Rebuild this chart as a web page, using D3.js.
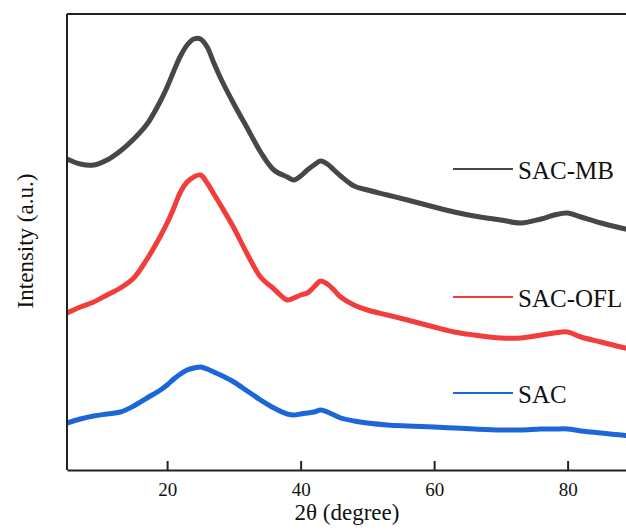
<!DOCTYPE html>
<html>
<head>
<meta charset="utf-8">
<script src="https://cdn.jsdelivr.net/npm/d3@7"></script>
<style>
  body { margin: 0; background: #fff; }
  svg text { font-family: "Liberation Serif", "Times New Roman", serif !important; fill: #111; }
</style>
</head>
<body>
<div id="viz"></div>
<script>
var svg_width = 626;
var svg_height = 530;

// 2theta (degree) sampled along the patterns
var angle = [5,7,9,11,13,15,17,19,20,21,22,23,24,25,26,27,28,30,32,34,36,38,39,40,41,42,43,44,45,46,48,50,53,56,60,63,66,70,73,76,78,80,82,85,88,90];
// intensity (a.u.), curves already offset as in the figure
var sac_mb = [311,306,305,310,319,331,346,369,383,399,414,425,431,431,423,407,392,366,342,318,300,293,290,294,300,305,309,306,300,294,284,280,275,270,263,258,254,250,247,251,255,257,253,247,242,239];
var sac_ofl = [157,163,168,175,182,192,211,234,247,262,278,288,293,295,287,276,265,242,216,193,181,170,172,175,177,183,189,186,180,173,165,160,155,150,143,138,135,132,132,135,137,138,133,128,123,120];
var sac = [47,51,54,56,58,64,72,80,85,91,96,100,102,103,101,98,95,88,79,70,62,56,55,56,57,58,60,58,55,52,49,47,45,44,43,42,41,40,40,41,41,41,39,37,35,34];

var series_names = ["SAC-MB", "SAC-OFL", "SAC"];
var series_values = [sac_mb, sac_ofl, sac];
var series_colors = ["#474747", "#f23d3d", "#1c66da"];
var legend_y = [169, 297, 393];
var x_ticks = [20, 40, 60, 80];

var left = 67, top_ = 14, bottom = 470;
var serif = '"Liberation Serif", "Times New Roman", serif';

var svg = d3.select('#viz')
.append('svg')
.attr('width', svg_width)
.attr('height', svg_height);

var x = d3.scaleLinear().domain([5, 90]).range([left, left + 85 * 6.675]);
var y = d3.scaleLinear().domain([0, 456]).range([bottom, top_]);

var line = d3.line()
.x(function(d, i){ return x(angle[i]); })
.y(function(d){ return y(d); })
.curve(d3.curveCatmullRom.alpha(0.5));

svg.selectAll('path.curve')
.data(series_values)
.enter()
.append('path')
.attr('class', 'curve')
.attr('d', line)
.attr('fill', 'none')
.attr('stroke', function(d, i){ return series_colors[i]; })
.attr('stroke-width', 5)
.attr('stroke-linejoin', 'round');

// frame: left and top
svg.append('line')
.attr('x1', left).attr('x2', left)
.attr('y1', top_).attr('y2', bottom)
.attr('stroke', '#222').attr('stroke-width', 2);
svg.append('line')
.attr('x1', left).attr('x2', svg_width)
.attr('y1', top_).attr('y2', top_)
.attr('stroke', '#222').attr('stroke-width', 2);

// bottom axis, ticks pointing inside
var xAxis = svg.append('g')
.attr('transform', 'translate(0,' + bottom + ')')
.call(d3.axisBottom(x).tickValues(x_ticks).tickSizeInner(-9).tickSizeOuter(0).tickPadding(13));
xAxis.attr('font-family', serif).attr('font-size', 19);
xAxis.select('.domain').attr('stroke', '#222').attr('stroke-width', 2);
xAxis.selectAll('.tick line').attr('stroke', '#222').attr('stroke-width', 2);
xAxis.selectAll('.tick text')
.style('font-family', serif)
.style('font-size', '19px')
.attr('fill', '#111');

svg.append('text')
.attr('x', 347)
.attr('y', 520)
.attr('text-anchor', 'middle')
.style('font-family', serif)
.style('font-size', '23px')
.text('2θ (degree)');

svg.append('text')
.attr('transform', 'translate(33,241) rotate(-90)')
.attr('text-anchor', 'middle')
.style('font-family', serif)
.style('font-size', '23px')
.text('Intensity (a.u.)');

// legend
var legend = svg.selectAll('g.legend')
.data(series_names)
.enter()
.append('g')
.attr('class', 'legend')
.attr('transform', function(d, i){ return 'translate(453,' + legend_y[i] + ')'; });

legend.append('line')
.attr('x1', 0).attr('x2', 60)
.attr('stroke', function(d, i){ return series_colors[i]; })
.attr('stroke-width', 2);

legend.append('text')
.attr('x', 65)
.attr('y', 10)
.style('font-family', serif)
.style('font-size', '25px')
.text(function(d){ return d; });
</script>
</body>
</html>
